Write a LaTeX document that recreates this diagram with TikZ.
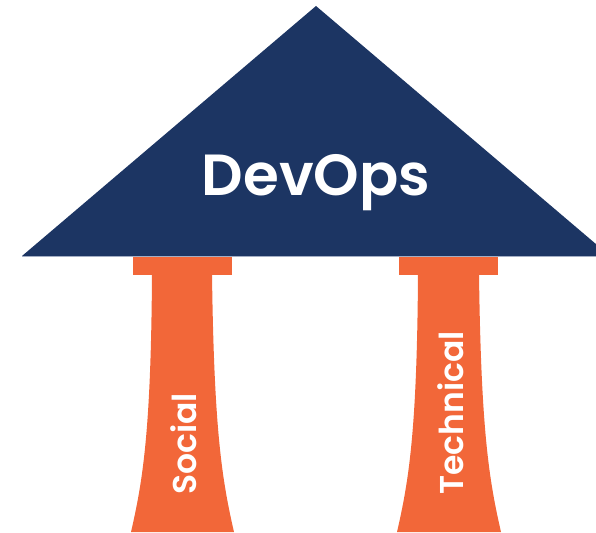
\documentclass[tikz,border=0pt]{standalone}
\usepackage{fontspec}
\setmainfont{Poppins}[UprightFont={* SemiBold},BoldFont={* SemiBold}]
\definecolor{navy}{HTML}{1C3563}
\definecolor{orng}{HTML}{F26739}
\definecolor{edgeline}{HTML}{A3AEC4}
\begin{document}
\begin{tikzpicture}[x=1pt,y=-1pt,
  roof/.style={fill=navy},
  pillar/.style={fill=orng},
  lbl/.style={text=white,inner sep=0pt,anchor=center}]
\useasboundingbox (0,0) rectangle (596,532);
\clip (0,0) rectangle (596,532);
% roof
\fill[roof] (316,6) -- (610,256) -- (22,256) -- cycle;
\draw[edgeline,line width=0.8pt] (22,256.3) -- (610,256.3);
% left pillar
\fill[pillar] (133,257) rectangle (232,275);
\fill[pillar] (152,274) -- (212,274)
  .. controls (214,430) and (222,480) .. (234,532)
  -- (131,532)
  .. controls (143,480) and (151,430) .. (152,274) -- cycle;
% right pillar
\fill[pillar] (399,257) rectangle (498,275);
\fill[pillar] (418,274) -- (479,274)
  .. controls (481,430) and (489,480) .. (501,532)
  -- (397,532)
  .. controls (409,480) and (417,430) .. (418,274) -- cycle;
% labels
\node[lbl,font=\fontsize{58}{60}\selectfont] (devops) at (316,183) {DevOps};
\node[lbl,font=\fontsize{33}{35}\selectfont,rotate=90] (social) at (184,444) {Social};
\node[lbl,font=\fontsize{33}{35}\selectfont,rotate=90] (technical) at (451,413) {Technical};
\end{tikzpicture}
\end{document}
